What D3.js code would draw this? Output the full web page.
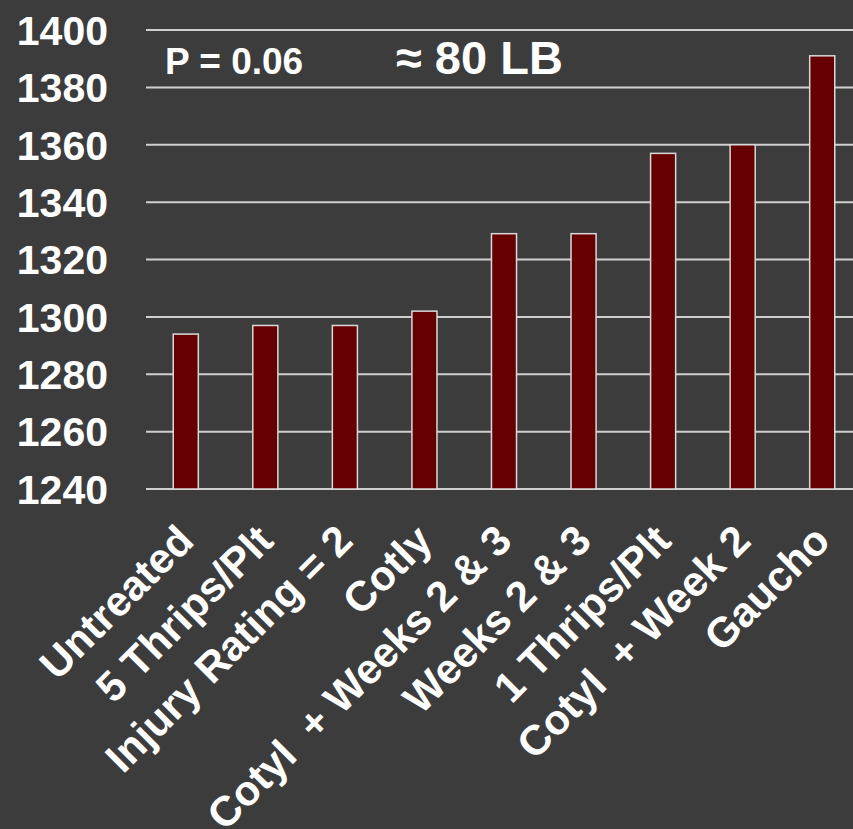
<!DOCTYPE html>
<html>
<head>
<meta charset="utf-8">
<script src="https://cdn.jsdelivr.net/npm/d3@7"></script>
<style>
  html, body { margin: 0; padding: 0; background: #3c3c3c; }
  svg { display: block; }
  text { font-family: "Liberation Sans", Arial, sans-serif; font-weight: bold; fill: #ffffff; }
</style>
</head>
<body>
<svg id="chart" width="853" height="829"></svg>
<script>
const categories = ["Untreated", "5 Thrips/Plt", "Injury Rating = 2", "Cotly", "Cotyl  + Weeks 2 & 3", "Weeks 2 & 3", "1 Thrips/Plt", "Cotyl  + Week 2", "Gaucho"];
const values = [1294, 1297, 1297, 1302, 1329, 1329, 1357, 1360, 1391];
const yTicks = [1240, 1260, 1280, 1300, 1320, 1340, 1360, 1380, 1400];
const annotations = ["P = 0.06", "\u2248 80 LB"];

const svg = d3.select("#chart");
svg.append("rect").attr("width", 853).attr("height", 829).attr("fill", "#3c3c3c");

const x = d3.scaleBand().domain(categories).range([146, 862]).paddingInner(0.685).paddingOuter(0.3425);
const y = d3.scaleLinear().domain([1240, 1400]).range([489, 30]);

// gridlines
svg.append("g").selectAll("line").data(yTicks).join("line")
  .attr("x1", 146).attr("x2", 862)
  .attr("y1", d => y(d)).attr("y2", d => y(d))
  .attr("stroke", "#cfcfcf").attr("stroke-width", 2);

// y tick labels
svg.append("g").selectAll("text").data(yTicks).join("text")
  .attr("x", 108).attr("y", d => y(d)).attr("dy", "0.36em")
  .attr("text-anchor", "end").attr("font-size", 41)
  .text(d => d);

// bars
svg.append("g").selectAll("rect").data(values).join("rect")
  .attr("x", (d, i) => x(categories[i]))
  .attr("width", x.bandwidth())
  .attr("y", d => y(d))
  .attr("height", d => y(1240) - y(d))
  .attr("fill", "#660000")
  .attr("stroke", "#d9d9d9").attr("stroke-width", 1.5);

// category labels
svg.append("g").selectAll("text").data(categories).join("text")
  .attr("transform", d => `translate(${x(d) + x.bandwidth() / 2 + 10},${y(1240) + 54}) rotate(-45)`)
  .attr("text-anchor", "end").attr("font-size", 42)
  .style("white-space", "pre")
  .text(d => d);

// annotations
svg.append("text").attr("x", 165).attr("y", 74).attr("font-size", 37).text(annotations[0]);
svg.append("text").attr("x", 396).attr("y", 74).attr("font-size", 47).text(annotations[1]);
</script>
</body>
</html>
